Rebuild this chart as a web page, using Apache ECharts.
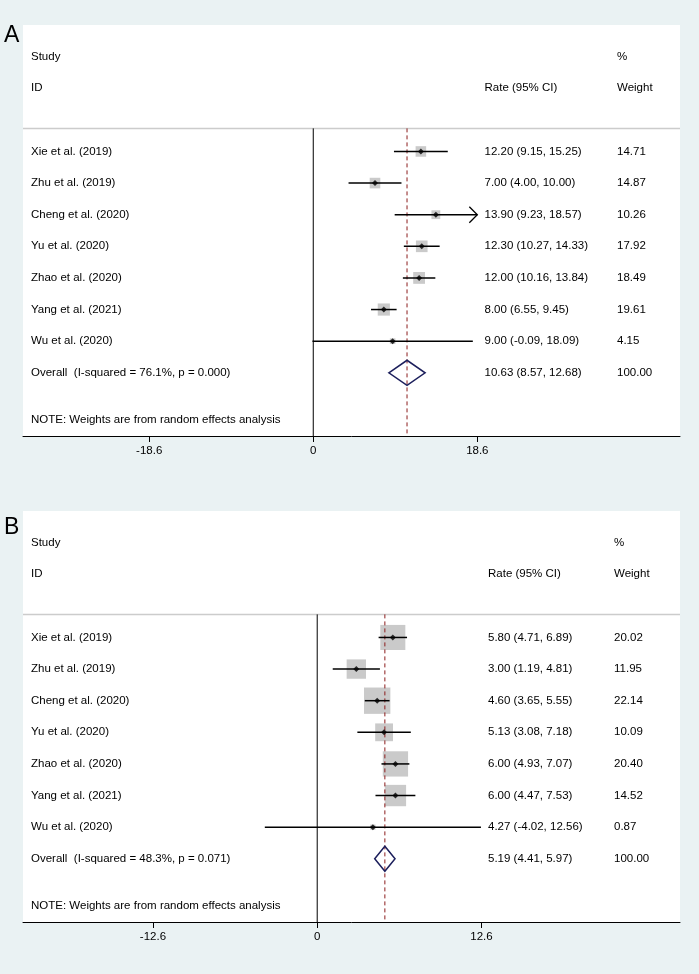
<!DOCTYPE html>
<html>
<head>
<meta charset="utf-8">
<script src="https://cdn.jsdelivr.net/npm/echarts@6/dist/echarts.min.js"></script>
<style>
  html, body { margin: 0; padding: 0; background: #eaf2f3; }
  #chart { width: 699px; height: 974px; }
</style>
</head>
<body>
<div id="chart"></div>
<script>
  'use strict';

  const studies = ['Xie et al. (2019)', 'Zhu et al. (2019)', 'Cheng et al. (2020)', 'Yu et al. (2020)',
    'Zhao et al. (2020)', 'Yang et al. (2021)', 'Wu et al. (2020)'];

  // panel A
  const rateA = [12.20, 7.00, 13.90, 12.30, 12.00, 8.00, 9.00];
  const lowA = [9.15, 4.00, 9.23, 10.27, 10.16, 6.55, -0.09];
  const highA = [15.25, 10.00, 18.57, 14.33, 13.84, 9.45, 18.09];
  const weightA = [14.71, 14.87, 10.26, 17.92, 18.49, 19.61, 4.15];
  const overallA = [10.63, 8.57, 12.68];
  const hetA = 'Overall  (I-squared = 76.1%, p = 0.000)';
  const ticksA = [-18.6, 0, 18.6];
  const arrowsA = [2]; // CI drawn as arrow (runs off the axis)

  // panel B
  const rateB = [5.80, 3.00, 4.60, 5.13, 6.00, 6.00, 4.27];
  const lowB = [4.71, 1.19, 3.65, 3.08, 4.93, 4.47, -4.02];
  const highB = [6.89, 4.81, 5.55, 7.18, 7.07, 7.53, 12.56];
  const weightB = [20.02, 11.95, 22.14, 10.09, 20.40, 14.52, 0.87];
  const overallB = [5.19, 4.41, 5.97];
  const hetB = 'Overall  (I-squared = 48.3%, p = 0.071)';
  const ticksB = [-12.6, 0, 12.6];
  const arrowsB = [];

  const note = 'NOTE: Weights are from random effects analysis';

  const FONT = '"Liberation Sans", Arial, sans-serif';
  const Y_MIN = -3, Y_MAX = 10, SEP_ROW = 0.27, OVERALL_ROW = 8, NOTE_ROW = 9.5;

  const fmt = v => v.toFixed(2);

  function textRender(items) {
    return function (params, api) {
      const t = items[params.dataIndex];
      const y = api.coord([0, t.row])[1];
      return {
        type: 'text',
        x: params.coordSys.x + t.dx,
        y: y,
        style: { text: t.text, fill: '#000', fontSize: 11.5, fontFamily: FONT, align: 'left', verticalAlign: 'middle' }
      };
    };
  }

  function buildPanel(g, p) {
    const rows = studies.map((_, i) => i + 1);
    const xMaxTick = p.ticks[p.ticks.length - 1];

    const texts = [
      { text: 'Study', row: -2, dx: 8 },
      { text: 'ID', row: -1, dx: 8 },
      { text: '%', row: -2, dx: p.wDx },
      { text: 'Rate (95% CI)', row: -1, dx: p.rDx },
      { text: 'Weight', row: -1, dx: p.wDx }
    ];
    studies.forEach((s, i) => {
      texts.push({ text: s, row: rows[i], dx: 8 });
      texts.push({ text: fmt(p.rate[i]) + ' (' + fmt(p.low[i]) + ', ' + fmt(p.high[i]) + ')', row: rows[i], dx: p.rDx });
      texts.push({ text: fmt(p.weight[i]), row: rows[i], dx: p.wDx });
    });
    texts.push({ text: p.het, row: OVERALL_ROW, dx: 8 });
    texts.push({ text: fmt(p.overall[0]) + ' (' + fmt(p.overall[1]) + ', ' + fmt(p.overall[2]) + ')', row: OVERALL_ROW, dx: p.rDx });
    texts.push({ text: '100.00', row: OVERALL_ROW, dx: p.wDx });
    texts.push({ text: note, row: NOTE_ROW, dx: 8 });

    return [
      {
        type: 'scatter', xAxisIndex: g, yAxisIndex: g, z: 1,
        symbol: 'rect',
        symbolSize: v => Math.sqrt(v[2]) * p.boxK,
        itemStyle: { color: '#bdbdbd' },
        data: p.rate.map((r, i) => [r, rows[i], p.weight[i]]),
        silent: true
      },
      {
        type: 'custom', xAxisIndex: g, yAxisIndex: g, z: 2,
        data: [[p.overall[0]]],
        renderItem: function (params, api) {
          const cs = params.coordSys;
          const top = api.coord([0, SEP_ROW]);
          const bot = api.coord([0, Y_MAX]);
          const ov = api.coord([api.value(0), SEP_ROW]);
          return {
            type: 'group',
            children: [
              { type: 'line', shape: { x1: cs.x, y1: top[1], x2: cs.x + cs.width, y2: top[1] }, style: { stroke: '#cccccc', lineWidth: 1.5 } },
              { type: 'line', shape: { x1: top[0], y1: top[1], x2: top[0], y2: bot[1] }, style: { stroke: '#000', lineWidth: 1 } },
              { type: 'line', shape: { x1: ov[0], y1: top[1], x2: ov[0], y2: bot[1] }, style: { stroke: '#8b1c1c', lineWidth: 1, lineDash: [4, 3] } }
            ]
          };
        }
      },
      {
        type: 'custom', xAxisIndex: g, yAxisIndex: g, z: 3,
        data: p.low.map((lo, i) => [lo, p.arrows.includes(i) ? xMaxTick : p.high[i], rows[i]]),
        renderItem: function (params, api) {
          const y = api.value(2);
          const a = api.coord([api.value(0), y]);
          const b = api.coord([api.value(1), y]);
          const children = [
            { type: 'line', shape: { x1: a[0], y1: a[1], x2: b[0], y2: b[1] }, style: { stroke: '#000', lineWidth: 1.5 } }
          ];
          if (p.arrows.includes(params.dataIndex)) {
            children.push({
              type: 'polyline',
              shape: { points: [[b[0] - 8, b[1] - 8], [b[0], b[1]], [b[0] - 8, b[1] + 8]] },
              style: { stroke: '#000', lineWidth: 1.3, fill: null }
            });
          }
          return { type: 'group', children: children };
        }
      },
      {
        type: 'scatter', xAxisIndex: g, yAxisIndex: g, z: 4,
        symbol: 'diamond', symbolSize: 6,
        itemStyle: { color: '#000' },
        data: p.rate.map((r, i) => [r, rows[i]]),
        silent: true
      },
      {
        type: 'custom', xAxisIndex: g, yAxisIndex: g, z: 3,
        data: [[p.overall[0], p.overall[1], p.overall[2], OVERALL_ROW]],
        renderItem: function (params, api) {
          const y = api.value(3);
          const c = api.coord([api.value(0), y]);
          const l = api.coord([api.value(1), y]);
          const r = api.coord([api.value(2), y]);
          const h = 12.5;
          return {
            type: 'polygon',
            shape: { points: [[l[0], l[1]], [c[0], c[1] - h], [r[0], r[1]], [c[0], c[1] + h]] },
            style: { stroke: '#1c1f5c', lineWidth: 1.5, fill: 'none' }
          };
        }
      },
      {
        type: 'custom', xAxisIndex: g, yAxisIndex: g, z: 5,
        data: texts.map(t => [0, t.row]),
        renderItem: textRender(texts)
      }
    ];
  }

  function xAxisFor(g, min, max, ticks) {
    return {
      gridIndex: g, type: 'value', min: min, max: max,
      axisLine: { onZero: false, lineStyle: { color: '#000', width: 1 } },
      axisTick: { customValues: ticks, length: 6, lineStyle: { color: '#000', width: 1 } },
      axisLabel: { customValues: ticks, color: '#000', fontSize: 11.5, fontFamily: FONT, margin: 9, formatter: v => String(v) },
      splitLine: { show: false }
    };
  }

  function yAxisFor(g) {
    return { gridIndex: g, type: 'value', inverse: true, min: Y_MIN, max: Y_MAX, show: false };
  }

  const panelA = { rate: rateA, low: lowA, high: highA, weight: weightA, overall: overallA, het: hetA,
    ticks: ticksA, arrows: arrowsA, boxK: 2.75, rDx: 461.5, wDx: 594 };
  const panelB = { rate: rateB, low: lowB, high: highB, weight: weightB, overall: overallB, het: hetB,
    ticks: ticksB, arrows: arrowsB, boxK: 5.6, rDx: 465, wDx: 591 };

  const chart = echarts.init(document.getElementById('chart'), null, { renderer: 'canvas' });

  chart.setOption({
    animation: false,
    backgroundColor: '#eaf2f3',
    grid: [
      { left: 23, right: 19, top: 25, height: 411, show: true, backgroundColor: '#ffffff', borderWidth: 0 },
      { left: 23, right: 19, top: 511, height: 411, show: true, backgroundColor: '#ffffff', borderWidth: 0 }
    ],
    xAxis: [
      xAxisFor(0, -32.91, 41.58, ticksA),
      xAxisFor(1, -22.57, 27.83, ticksB)
    ],
    yAxis: [yAxisFor(0), yAxisFor(1)],
    graphic: [
      { type: 'text', left: 4, top: 24, z: 10, style: { text: 'A', fontSize: 23, fontFamily: FONT, fill: '#000' } },
      { type: 'text', left: 4, top: 516, z: 10, style: { text: 'B', fontSize: 23, fontFamily: FONT, fill: '#000' } }
    ],
    series: buildPanel(0, panelA).concat(buildPanel(1, panelB))
  });

  window.addEventListener('resize', () => chart.resize());
</script>
</body>
</html>
